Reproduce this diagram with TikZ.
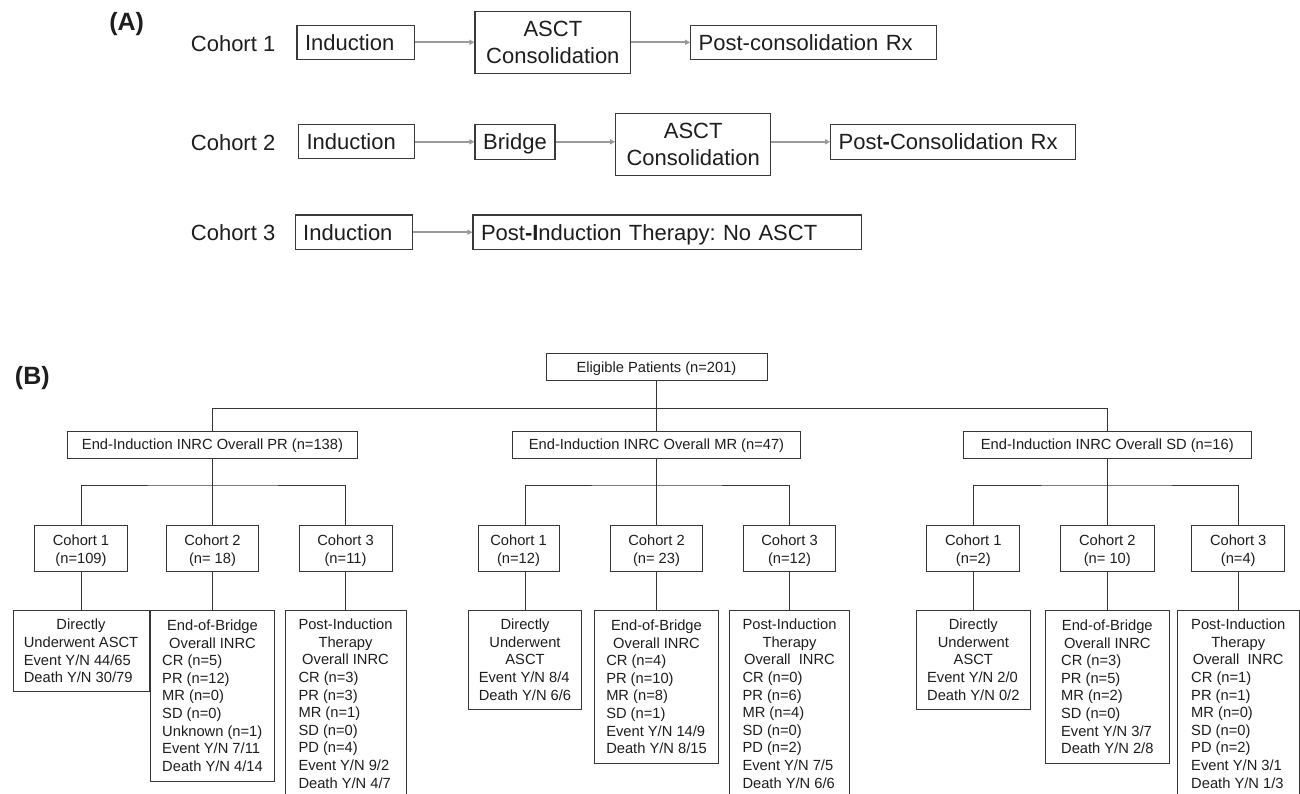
\documentclass[tikz,border=0pt]{standalone}
\usepackage{fontspec}
\setmainfont{Liberation Sans}
\usetikzlibrary{arrows.meta}
\frenchspacing
\definecolor{txt}{HTML}{1E1E1E}
\definecolor{bordA}{HTML}{3A3A3A}
\definecolor{arrowc}{HTML}{9A9A9A}
\definecolor{lineB}{HTML}{363636}
\newcommand\fA{\fontsize{22}{27.7}\selectfont}
\newcommand\fB{\fontsize{14.7}{17.6}\selectfont}
\newcommand\fL{\fontsize{25}{30}\selectfont\bfseries}
\newcommand\hd[1]{\multicolumn{1}{@{}c@{}}{#1}}
\newcommand\st{\rule{0pt}{15.3pt}}
\newcommand\stc{\rule{0pt}{18.3pt}}
\begin{document}
\begin{tikzpicture}[x=1pt,y=-1pt,
  abox/.style={draw=bordA, line width=1.1pt, inner sep=0pt, font=\fA, text=txt},
  aboxl/.style={abox, align=left, inner xsep=8pt, inner ysep=0pt, text height=15.8pt, text depth=0pt},
  acell/.style={abox, align=center},
  lab/.style={inner sep=0pt, font=\fA, text=txt, anchor=base west},
  plab/.style={inner sep=0pt, font=\fL, text=txt},
  arr/.style={draw=arrowc, line width=1.8pt, -{Triangle[length=5pt,width=5pt]}},
  bbox/.style={draw=lineB, line width=0.9pt, inner sep=0pt, font=\fB, text=txt, align=center},
  bone/.style={bbox, text height=10.5pt, text depth=0pt},
  bline/.style={draw=lineB, line width=0.9pt}]
\useasboundingbox (0,0) rectangle (1300,794);
\fill[white] (0,0) rectangle (1300,794);
\clip (0,0) rectangle (1300,794);

% ---------------- Part A ----------------
\node[plab] (labA) at (126.7,24.2) {(A)};
\node[lab] (c1) at (190.7,51.2) {Cohort 1};
\node[lab] (c2) at (190.7,150.9) {Cohort 2};
\node[lab] (c3) at (190.7,240.2) {Cohort 3};

% row 1
\node[aboxl, text width=101.6pt, minimum height=34.3pt] (i1) at (355.8,42.3) {Induction};
\node[acell, minimum width=155.7pt, minimum height=61.6pt] (a1) at (552.85,42.3) {ASCT\\Consolidation};
\node[aboxl, text width=230pt, minimum height=34.3pt] (p1) at (813.7,42.3) {Post-consolidation Rx};
\draw[arr] (i1.east) -- (a1.west);
\draw[arr] (a1.east) -- (p1.west);

% row 2
\node[aboxl, text width=100.1pt, minimum height=34.3pt] (i2) at (356.55,141.8) {Induction};
\node[acell, minimum width=80pt, minimum height=35pt, text height=15.8pt, text depth=0pt] (b2) at (515,141.8) {Bridge};
\node[acell, minimum width=155pt, minimum height=62.4pt] (a2) at (693.2,144.5) {ASCT\\Consolidation};
\node[aboxl, text width=229.1pt, minimum height=35pt] (p2) at (953.25,141.8) {Post\textbf{-}Consolidation Rx};
\draw[arr] (i2.east) -- (b2.west);
\draw[arr] (b2.east) -- (b2.east -| a2.west);
\draw[arr] (b2.east -| a2.east) -- (p2.west);

% row 3
\node[aboxl, text width=101.3pt, minimum height=34.3pt] (i3) at (353.85,232.2) {Induction};
\node[aboxl, text width=372.4pt, minimum height=34.3pt] (p3) at (667.2,232.2) {Post\textbf{-I}nduction Therapy: No ASCT};
\draw[arr] (i3.east) -- (p3.west);

% ---------------- Part B ----------------
\node[plab] (labB) at (32.3,378.3) {(B)};
\node[bone, minimum width=221pt, minimum height=27.4pt] (elig) at (656.5,367) {Eligible Patients (n=201)};

\node[bone, minimum width=289.4pt, minimum height=27.3pt] (topP) at (212.5,444.7) {End-Induction INRC Overall PR (n=138)};
\node[bone, minimum width=288.4pt, minimum height=27.3pt] (topM) at (656.5,444.7) {End-Induction INRC Overall MR (n=47)};
\node[bone, minimum width=288.5pt, minimum height=27.3pt] (topS) at (1107.3,444.7) {End-Induction INRC Overall SD (n=16)};

\coordinate (busA) at (656.5,408.3);
\draw[bline] (elig.south) -- (topM.north);
\draw[bline] (topP.north) |- (busA) -| (topS.north);

% cohort boxes
\node[bbox, minimum width=93.3pt, minimum height=45.7pt] (cP1) at (81,548.2) {\begin{tabular}{@{}c@{}}\stc Cohort 1\\(n=109)\end{tabular}};
\node[bbox, minimum width=92.8pt, minimum height=45.7pt] (cP2) at (212.5,548.2) {\begin{tabular}{@{}c@{}}\stc Cohort 2\\(n= 18)\end{tabular}};
\node[bbox, minimum width=92.9pt, minimum height=45.7pt] (cP3) at (345.5,548.2) {\begin{tabular}{@{}c@{}}\stc Cohort 3\\(n=11)\end{tabular}};
\node[bbox, minimum width=80.9pt, minimum height=45.7pt] (cM1) at (518.5,548.2) {\begin{tabular}{@{}c@{}}\stc Cohort 1\\(n=12)\end{tabular}};
\node[bbox, minimum width=92.8pt, minimum height=45.7pt] (cM2) at (656.5,548.2) {\begin{tabular}{@{}c@{}}\stc Cohort 2\\(n= 23)\end{tabular}};
\node[bbox, minimum width=92.8pt, minimum height=45.7pt] (cM3) at (789.5,548.2) {\begin{tabular}{@{}c@{}}\stc Cohort 3\\(n=12)\end{tabular}};
\node[bbox, minimum width=93.2pt, minimum height=45.7pt] (cS1) at (973.3,548.2) {\begin{tabular}{@{}c@{}}\stc Cohort 1\\(n=2)\end{tabular}};
\node[bbox, minimum width=93.3pt, minimum height=45.7pt] (cS2) at (1107.3,548.2) {\begin{tabular}{@{}c@{}}\stc Cohort 2\\(n= 10)\end{tabular}};
\node[bbox, minimum width=93.3pt, minimum height=45.7pt] (cS3) at (1238.2,548.2) {\begin{tabular}{@{}c@{}}\stc Cohort 3\\(n=4)\end{tabular}};

% bottom boxes
\node[bbox, minimum width=136pt, minimum height=81pt] (bP1) at (81,651.2) {\begin{tabular}{@{}l@{}}\hd{\st Directly}\\\hd{Underwent ASCT}\\Event Y/N 44/65\\Death Y/N 30/79\end{tabular}};
\node[bbox, minimum width=123.3pt, minimum height=170.3pt] (bP2) at (212.5,695.85) {\begin{tabular}{@{}l@{}}\hd{\st End-of-Bridge}\\\hd{Overall INRC}\\CR (n=5)\\PR (n=12)\\MR (n=0)\\SD (n=0)\\Unknown (n=1)\\Event Y/N 7/11\\Death Y/N 4/14\end{tabular}};
\node[bbox, minimum width=121pt, minimum height=186.3pt] (bP3) at (345.5,703.85) {\begin{tabular}{@{}l@{}}\hd{\st Post-Induction}\\\hd{Therapy}\\\hd{Overall INRC}\\CR (n=3)\\PR (n=3)\\MR (n=1)\\SD (n=0)\\PD (n=4)\\Event Y/N 9/2\\Death Y/N 4/7\end{tabular}};

\node[bbox, minimum width=112.7pt, minimum height=98.3pt] (bM1) at (525,659.85) {\begin{tabular}{@{}l@{}}\hd{\st Directly}\\\hd{Underwent}\\\hd{ASCT}\\Event Y/N 8/4\\Death Y/N 6/6\end{tabular}};
\node[bbox, minimum width=123.3pt, minimum height=152.6pt] (bM2) at (656.5,687) {\begin{tabular}{@{}l@{}}\hd{\st End-of-Bridge}\\\hd{Overall INRC}\\CR (n=4)\\PR (n=10)\\MR (n=8)\\SD (n=1)\\Event Y/N 14/9\\Death Y/N 8/15\end{tabular}};
\node[bbox, minimum width=120.7pt, minimum height=186.3pt] (bM3) at (789.5,703.85) {\begin{tabular}{@{}l@{}}\hd{\st Post-Induction}\\\hd{Therapy}\\\hd{Overall\ \ INRC}\\CR (n=0)\\PR (n=6)\\MR (n=4)\\SD (n=0)\\PD (n=2)\\Event Y/N 7/5\\Death Y/N 6/6\end{tabular}};

\node[bbox, minimum width=114.3pt, minimum height=98.3pt] (bS1) at (973.3,659.85) {\begin{tabular}{@{}l@{}}\hd{\st Directly}\\\hd{Underwent}\\\hd{ASCT}\\Event Y/N 2/0\\Death Y/N 0/2\end{tabular}};
\node[bbox, minimum width=123.3pt, minimum height=152.6pt] (bS2) at (1107.3,687) {\begin{tabular}{@{}l@{}}\hd{\st End-of-Bridge}\\\hd{Overall INRC}\\CR (n=3)\\PR (n=5)\\MR (n=2)\\SD (n=0)\\Event Y/N 3/7\\Death Y/N 2/8\end{tabular}};
\node[bbox, minimum width=122pt, minimum height=186.3pt] (bS3) at (1238.2,703.85) {\begin{tabular}{@{}l@{}}\hd{\st Post-Induction}\\\hd{Therapy}\\\hd{Overall\ \ INRC}\\CR (n=1)\\PR (n=1)\\MR (n=0)\\SD (n=0)\\PD (n=2)\\Event Y/N 3/1\\Death Y/N 1/3\end{tabular}};

% connectors group PR
\coordinate (busP) at (212.5,485);
\draw[bline] (topP.south) -- (cP2.north);
\draw[bline] (cP1.north) |- (busP) -| (cP3.north);
\draw[bline] (cP1.south) -- (bP1.north);
\draw[bline] (cP2.south) -- (bP2.north);
\draw[bline] (cP3.south) -- (bP3.north);
% group MR
\coordinate (busM) at (656.5,485);
\draw[bline] (topM.south) -- (cM2.north);
\draw[bline] (cM1.north -| bM1.north) |- (busM) -| (cM3.north);
\draw[bline] (cM1.south -| bM1.north) -- (bM1.north);
\draw[bline] (cM2.south) -- (bM2.north);
\draw[bline] (cM3.south) -- (bM3.north);
% group SD
\coordinate (busS) at (1107.3,485);
\draw[bline] (topS.south) -- (cS2.north);
\draw[bline] (cS1.north) |- (busS) -| (cS3.north);
\draw[bline] (cS1.south) -- (bS1.north);
\draw[bline] (cS2.south) -- (bS2.north);
\draw[bline] (cS3.south) -- (bS3.north);
\end{tikzpicture}
\end{document}
